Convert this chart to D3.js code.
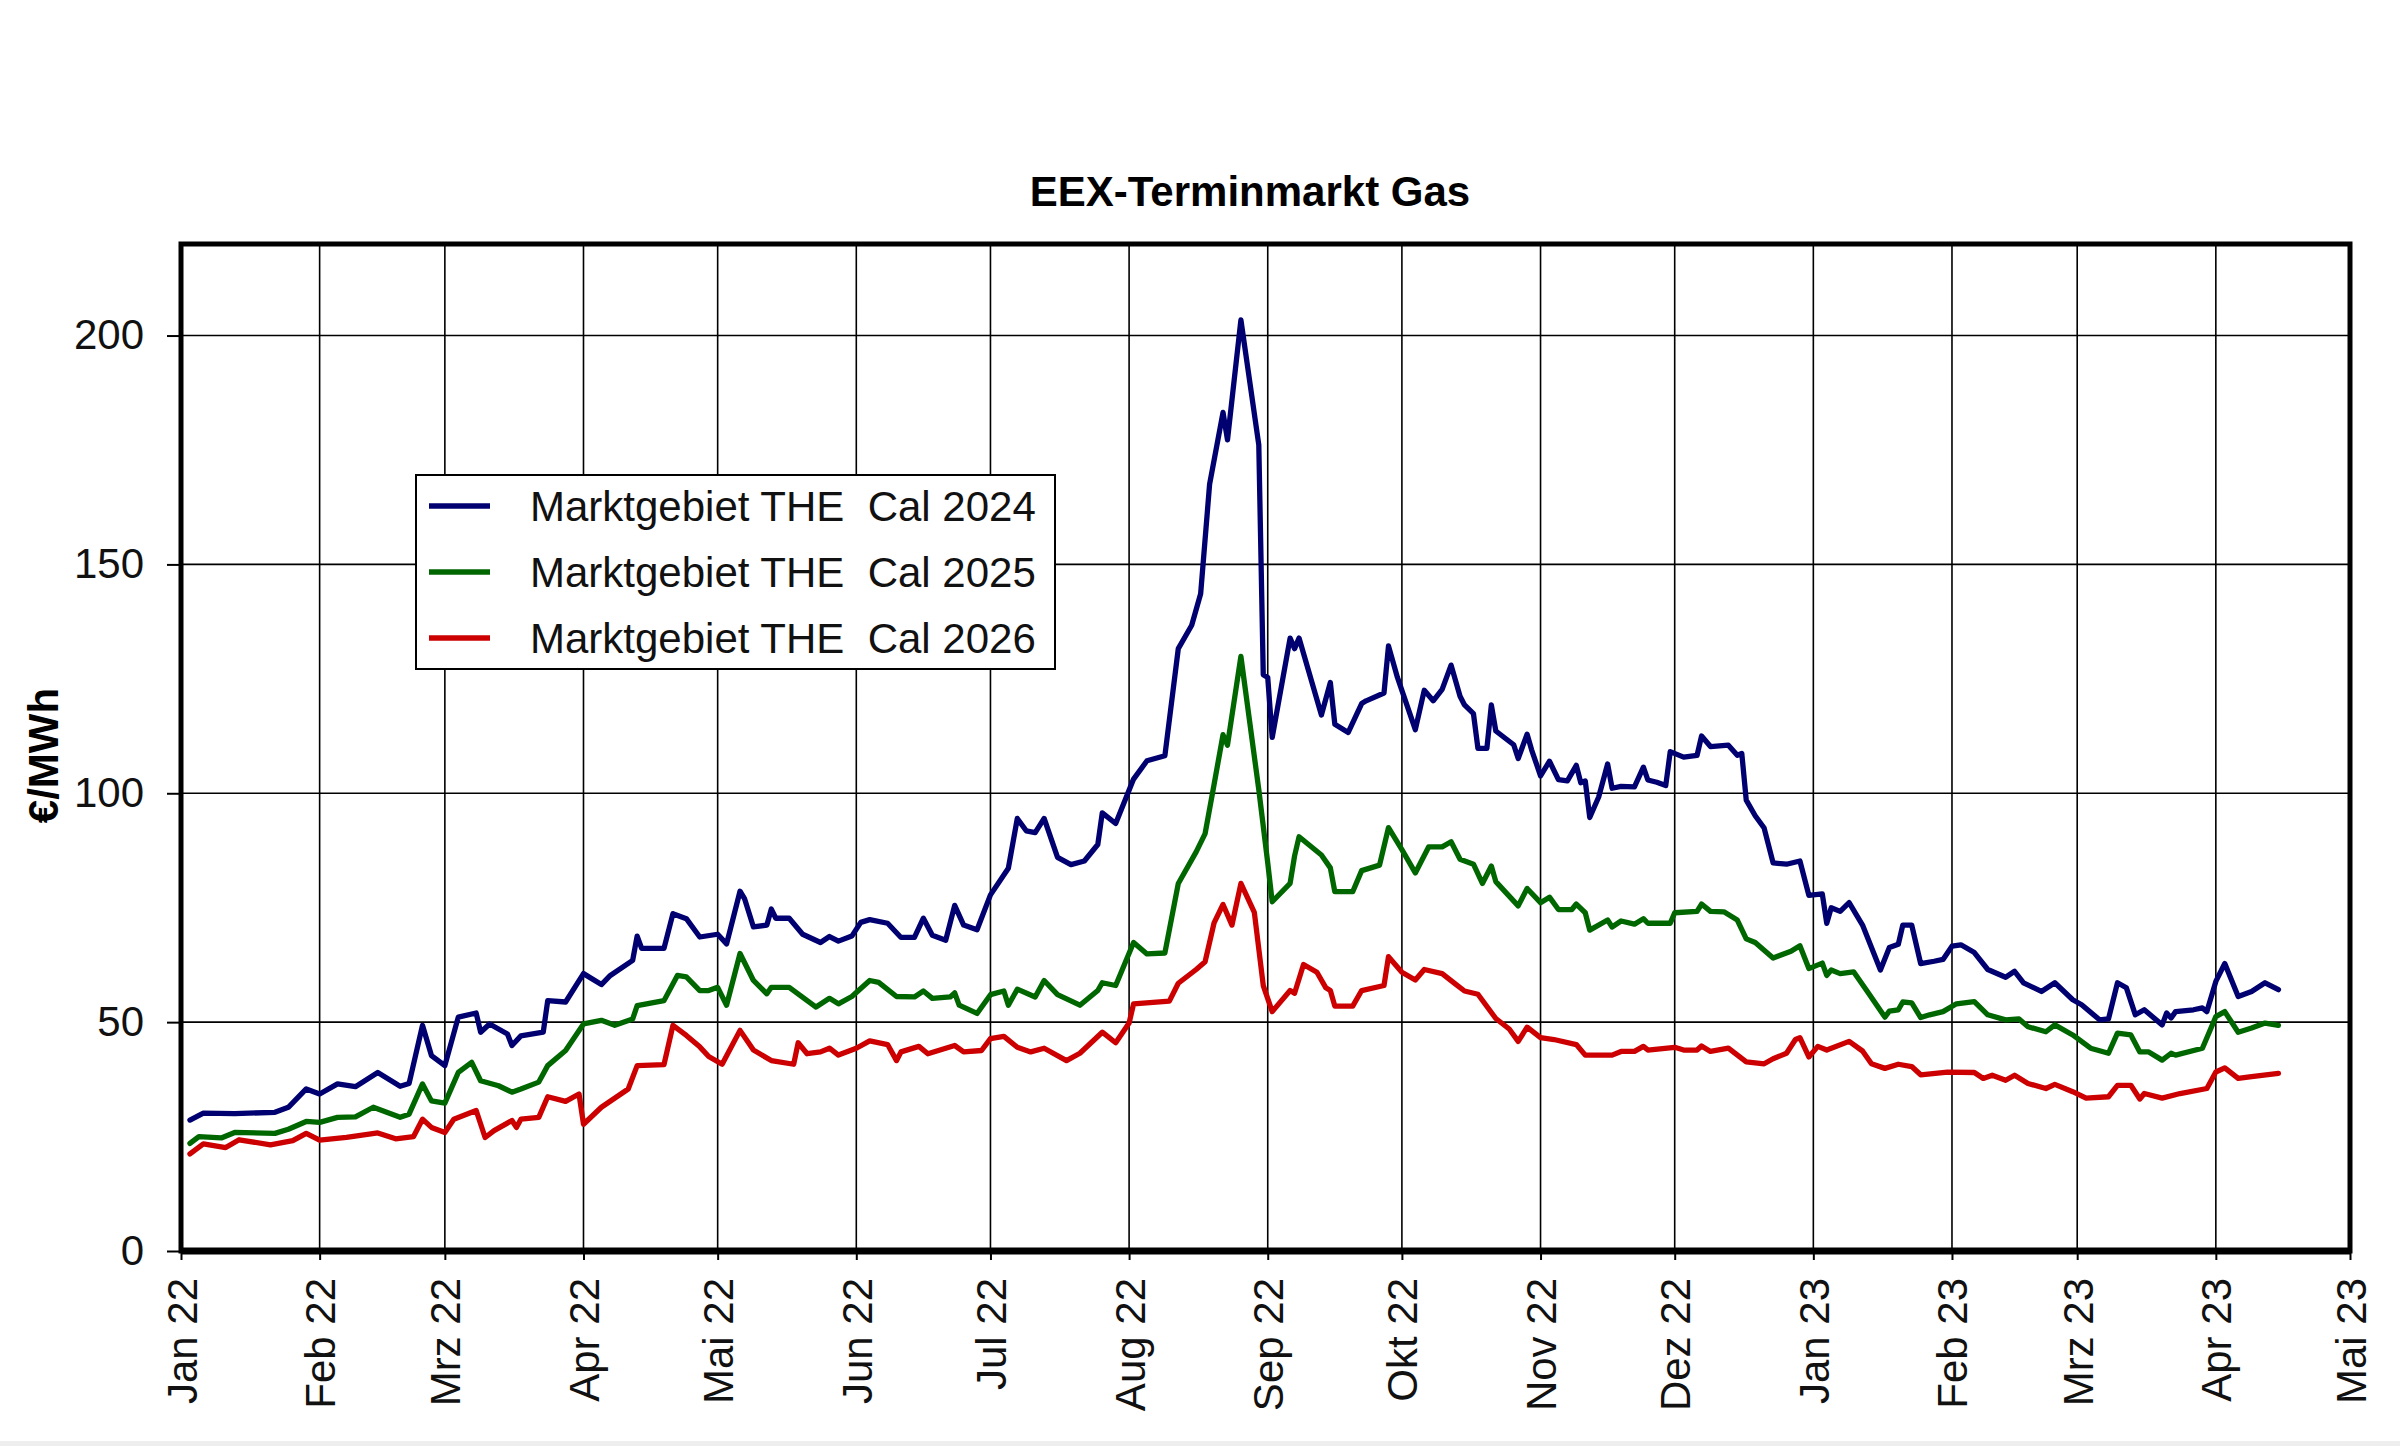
<!DOCTYPE html>
<html>
<head>
<meta charset="utf-8">
<script src="https://cdn.jsdelivr.net/npm/d3@7"></script>
<style>
  body { margin: 0; background: #fff; }
</style>
</head>
<body>
<div id="chart"></div>
<script>
// EEX-Terminmarkt Gas - THE Cal 24/25/26 forward prices

const title = 'EEX-Terminmarkt Gas'
const yLabel = '€/MWh'
const seriesNames = ['Marktgebiet THE  Cal 2024', 'Marktgebiet THE  Cal 2025', 'Marktgebiet THE  Cal 2026']
const seriesColours = ['#000070', '#006600', '#cc0000']
const monthNames = ['Jan', 'Feb', 'Mrz', 'Apr', 'Mai', 'Jun', 'Jul', 'Aug', 'Sep', 'Okt', 'Nov', 'Dez']
const yTicks = [0, 50, 100, 150, 200]
const xStart = '2022-01-01'
const xEnd = '2023-05-01'

const cal2024 = [
  ['2022-01-03', 28.6], ['2022-01-06', 30.1], ['2022-01-13', 30.0], ['2022-01-22', 30.3],
  ['2022-01-25', 31.4], ['2022-01-29', 35.4], ['2022-02-01', 34.3], ['2022-02-05', 36.5],
  ['2022-02-09', 35.9], ['2022-02-14', 39.0], ['2022-02-19', 36.0], ['2022-02-21', 36.6],
  ['2022-02-24', 49.3], ['2022-02-26', 42.7], ['2022-03-01', 40.5], ['2022-03-04', 51.1],
  ['2022-03-08', 52.0], ['2022-03-09', 47.8], ['2022-03-11', 49.6], ['2022-03-15', 47.4],
  ['2022-03-16', 44.9], ['2022-03-18', 47.0], ['2022-03-23', 47.8], ['2022-03-24', 54.7],
  ['2022-03-28', 54.4], ['2022-04-01', 60.6], ['2022-04-05', 58.2], ['2022-04-07', 60.2],
  ['2022-04-12', 63.5], ['2022-04-13', 68.8], ['2022-04-14', 66.1], ['2022-04-19', 66.1],
  ['2022-04-21', 73.7], ['2022-04-24', 72.6], ['2022-04-27', 68.6], ['2022-05-01', 69.2],
  ['2022-05-03', 67.1], ['2022-05-06', 78.6], ['2022-05-07', 77.0], ['2022-05-09', 70.8],
  ['2022-05-12', 71.2], ['2022-05-13', 74.7], ['2022-05-14', 72.7], ['2022-05-17', 72.7],
  ['2022-05-20', 69.2], ['2022-05-24', 67.4], ['2022-05-26', 68.7], ['2022-05-28', 67.7],
  ['2022-05-31', 68.8], ['2022-06-02', 71.8], ['2022-06-04', 72.4], ['2022-06-08', 71.6],
  ['2022-06-11', 68.5], ['2022-06-14', 68.5], ['2022-06-16', 72.7], ['2022-06-18', 69.0],
  ['2022-06-21', 67.9], ['2022-06-23', 75.5], ['2022-06-25', 71.2], ['2022-06-28', 70.2],
  ['2022-07-01', 77.8], ['2022-07-05', 83.6], ['2022-07-07', 94.5], ['2022-07-09', 91.8],
  ['2022-07-11', 91.4], ['2022-07-13', 94.5], ['2022-07-16', 86.0], ['2022-07-19', 84.4],
  ['2022-07-22', 85.2], ['2022-07-25', 88.8], ['2022-07-26', 95.7], ['2022-07-29', 93.4],
  ['2022-08-02', 103.1], ['2022-08-05', 107.1], ['2022-08-09', 108.2], ['2022-08-12', 131.6],
  ['2022-08-15', 136.7], ['2022-08-17', 143.6], ['2022-08-19', 167.5], ['2022-08-22', 183.2],
  ['2022-08-23', 177.2], ['2022-08-26', 203.4], ['2022-08-30', 176.1], ['2022-08-31', 125.9],
  ['2022-09-01', 125.3], ['2022-09-02', 112.2], ['2022-09-06', 133.9], ['2022-09-07', 131.6],
  ['2022-09-08', 133.9], ['2022-09-13', 117.1], ['2022-09-15', 124.2], ['2022-09-16', 115.1],
  ['2022-09-19', 113.3], ['2022-09-22', 119.6], ['2022-09-23', 120.2], ['2022-09-27', 121.9],
  ['2022-09-28', 132.2], ['2022-09-30', 125.3], ['2022-10-04', 113.9], ['2022-10-06', 122.5],
  ['2022-10-08', 120.2], ['2022-10-10', 122.7], ['2022-10-12', 128.0], ['2022-10-14', 121.2],
  ['2022-10-15', 119.3], ['2022-10-17', 117.4], ['2022-10-18', 109.8], ['2022-10-20', 109.8],
  ['2022-10-21', 119.3], ['2022-10-22', 113.6], ['2022-10-26', 110.6], ['2022-10-27', 107.6],
  ['2022-10-29', 112.9], ['2022-10-30', 109.5], ['2022-11-01', 103.8], ['2022-11-03', 107.0],
  ['2022-11-05', 103.0], ['2022-11-07', 102.7], ['2022-11-09', 106.1], ['2022-11-10', 102.3],
  ['2022-11-11', 102.7], ['2022-11-12', 94.7], ['2022-11-14', 99.2], ['2022-11-16', 106.4],
  ['2022-11-17', 101.1], ['2022-11-19', 101.5], ['2022-11-22', 101.4], ['2022-11-24', 105.7],
  ['2022-11-25', 102.9], ['2022-11-27', 102.4], ['2022-11-29', 101.7], ['2022-11-30', 109.1],
  ['2022-12-03', 107.9], ['2022-12-06', 108.3], ['2022-12-07', 112.5], ['2022-12-09', 110.2],
  ['2022-12-13', 110.5], ['2022-12-15', 108.3], ['2022-12-16', 108.7], ['2022-12-17', 98.5],
  ['2022-12-19', 95.1], ['2022-12-21', 92.4], ['2022-12-23', 84.8], ['2022-12-26', 84.5],
  ['2022-12-29', 85.2], ['2022-12-31', 77.7], ['2023-01-03', 78.0], ['2023-01-04', 71.6],
  ['2023-01-05', 75.0], ['2023-01-07', 74.2], ['2023-01-09', 76.1], ['2023-01-12', 71.2],
  ['2023-01-16', 61.4], ['2023-01-18', 66.3], ['2023-01-20', 67.0], ['2023-01-21', 71.2],
  ['2023-01-23', 71.2], ['2023-01-25', 62.8], ['2023-01-28', 63.3], ['2023-01-30', 63.7],
  ['2023-02-01', 66.6], ['2023-02-03', 66.9], ['2023-02-06', 65.2], ['2023-02-09', 61.5],
  ['2023-02-13', 59.8], ['2023-02-15', 61.1], ['2023-02-17', 58.6], ['2023-02-21', 56.7],
  ['2023-02-24', 58.6], ['2023-02-28', 54.9], ['2023-03-02', 53.8], ['2023-03-06', 50.5],
  ['2023-03-08', 50.7], ['2023-03-10', 58.6], ['2023-03-12', 57.5], ['2023-03-14', 51.6],
  ['2023-03-16', 52.7], ['2023-03-20', 49.4], ['2023-03-21', 52.0], ['2023-03-22', 50.9],
  ['2023-03-23', 52.3], ['2023-03-27', 52.7], ['2023-03-29', 53.1], ['2023-03-30', 52.3],
  ['2023-04-01', 58.9], ['2023-04-03', 62.8], ['2023-04-06', 55.6], ['2023-04-09', 56.7],
  ['2023-04-12', 58.6], ['2023-04-15', 57.1]
]

const cal2025 = [
  ['2022-01-03', 23.5], ['2022-01-05', 25.0], ['2022-01-10', 24.7], ['2022-01-13', 25.9],
  ['2022-01-22', 25.7], ['2022-01-25', 26.6], ['2022-01-29', 28.3], ['2022-02-01', 28.1],
  ['2022-02-05', 29.2], ['2022-02-09', 29.3], ['2022-02-13', 31.4], ['2022-02-19', 29.2],
  ['2022-02-21', 29.9], ['2022-02-24', 36.5], ['2022-02-26', 32.8], ['2022-03-01', 32.3],
  ['2022-03-04', 39.0], ['2022-03-07', 41.2], ['2022-03-09', 37.2], ['2022-03-13', 36.1],
  ['2022-03-16', 34.7], ['2022-03-18', 35.4], ['2022-03-22', 36.9], ['2022-03-24', 40.5],
  ['2022-03-28', 43.8], ['2022-04-01', 49.6], ['2022-04-05', 50.4], ['2022-04-08', 49.3],
  ['2022-04-12', 50.7], ['2022-04-13', 53.6], ['2022-04-19', 54.7], ['2022-04-22', 60.2],
  ['2022-04-24', 59.9], ['2022-04-27', 56.9], ['2022-04-29', 56.9], ['2022-05-01', 57.6],
  ['2022-05-03', 53.7], ['2022-05-06', 65.0], ['2022-05-09', 59.1], ['2022-05-12', 56.2],
  ['2022-05-13', 57.6], ['2022-05-17', 57.6], ['2022-05-23', 53.3], ['2022-05-26', 55.2],
  ['2022-05-28', 54.0], ['2022-05-31', 55.6], ['2022-06-04', 59.1], ['2022-06-06', 58.7],
  ['2022-06-10', 55.6], ['2022-06-14', 55.5], ['2022-06-16', 56.8], ['2022-06-18', 55.2],
  ['2022-06-22', 55.5], ['2022-06-23', 56.4], ['2022-06-24', 53.7], ['2022-06-28', 51.9],
  ['2022-07-01', 56.0], ['2022-07-04', 56.8], ['2022-07-05', 53.7], ['2022-07-07', 57.2],
  ['2022-07-11', 55.5], ['2022-07-13', 59.1], ['2022-07-16', 56.0], ['2022-07-21', 53.7],
  ['2022-07-25', 56.9], ['2022-07-26', 58.6], ['2022-07-29', 58.0], ['2022-08-02', 67.4],
  ['2022-08-05', 64.9], ['2022-08-09', 65.1], ['2022-08-12', 80.3], ['2022-08-16', 87.2],
  ['2022-08-18', 91.2], ['2022-08-20', 101.9], ['2022-08-22', 112.8], ['2022-08-23', 110.5],
  ['2022-08-26', 129.9], ['2022-08-30', 100.8], ['2022-09-01', 84.8], ['2022-09-02', 76.3],
  ['2022-09-06', 80.3], ['2022-09-07', 86.3], ['2022-09-08', 90.5], ['2022-09-13', 86.5],
  ['2022-09-15', 83.7], ['2022-09-16', 78.5], ['2022-09-20', 78.5], ['2022-09-22', 83.1],
  ['2022-09-26', 84.3], ['2022-09-28', 92.5], ['2022-10-01', 87.7], ['2022-10-04', 82.6],
  ['2022-10-07', 88.3], ['2022-10-10', 88.3], ['2022-10-12', 89.4], ['2022-10-14', 85.6],
  ['2022-10-17', 84.5], ['2022-10-19', 80.3], ['2022-10-21', 84.1], ['2022-10-22', 80.7],
  ['2022-10-27', 75.4], ['2022-10-29', 79.2], ['2022-11-01', 76.1], ['2022-11-03', 77.3],
  ['2022-11-05', 74.6], ['2022-11-08', 74.6], ['2022-11-09', 75.8], ['2022-11-11', 73.9],
  ['2022-11-12', 70.1], ['2022-11-16', 72.3], ['2022-11-17', 70.8], ['2022-11-19', 72.1],
  ['2022-11-22', 71.4], ['2022-11-24', 72.6], ['2022-11-25', 71.6], ['2022-11-30', 71.6],
  ['2022-12-01', 73.9], ['2022-12-06', 74.2], ['2022-12-07', 75.8], ['2022-12-09', 74.2],
  ['2022-12-12', 74.1], ['2022-12-15', 72.3], ['2022-12-17', 68.2], ['2022-12-19', 67.4],
  ['2022-12-23', 64.0], ['2022-12-27', 65.5], ['2022-12-29', 66.7], ['2022-12-31', 61.7],
  ['2023-01-03', 62.9], ['2023-01-04', 60.2], ['2023-01-05', 61.4], ['2023-01-07', 60.6],
  ['2023-01-10', 61.0], ['2023-01-13', 56.8], ['2023-01-17', 51.1], ['2023-01-18', 52.4],
  ['2023-01-20', 52.7], ['2023-01-21', 54.4], ['2023-01-23', 54.2], ['2023-01-25', 51.0],
  ['2023-01-27', 51.6], ['2023-01-30', 52.3], ['2023-02-02', 54.0], ['2023-02-06', 54.5],
  ['2023-02-09', 51.6], ['2023-02-13', 50.5], ['2023-02-16', 50.7], ['2023-02-18', 49.0],
  ['2023-02-22', 47.9], ['2023-02-24', 49.4], ['2023-02-28', 47.2], ['2023-03-04', 44.3],
  ['2023-03-08', 43.2], ['2023-03-10', 47.6], ['2023-03-13', 47.2], ['2023-03-15', 43.5],
  ['2023-03-17', 43.5], ['2023-03-20', 41.7], ['2023-03-22', 43.2], ['2023-03-23', 42.8],
  ['2023-03-29', 44.3], ['2023-04-01', 51.2], ['2023-04-03', 52.3], ['2023-04-06', 47.8],
  ['2023-04-09', 48.7], ['2023-04-12', 49.8], ['2023-04-15', 49.3]
]

const cal2026 = [
  ['2022-01-03', 21.2], ['2022-01-06', 23.4], ['2022-01-11', 22.6], ['2022-01-14', 24.3],
  ['2022-01-21', 23.2], ['2022-01-26', 24.1], ['2022-01-29', 25.7], ['2022-02-01', 24.2],
  ['2022-02-07', 24.8], ['2022-02-14', 25.8], ['2022-02-18', 24.5], ['2022-02-22', 25.0],
  ['2022-02-24', 28.8], ['2022-02-26', 27.0], ['2022-03-01', 25.9], ['2022-03-03', 28.8],
  ['2022-03-08', 30.7], ['2022-03-10', 24.8], ['2022-03-12', 26.3], ['2022-03-16', 28.5],
  ['2022-03-17', 27.0], ['2022-03-18', 28.8], ['2022-03-22', 29.2], ['2022-03-24', 33.7],
  ['2022-03-28', 32.7], ['2022-03-31', 34.3], ['2022-04-01', 27.7], ['2022-04-05', 31.4],
  ['2022-04-11', 35.4], ['2022-04-13', 40.5], ['2022-04-19', 40.7], ['2022-04-21', 49.3],
  ['2022-04-24', 47.1], ['2022-04-27', 44.6], ['2022-04-29', 42.5], ['2022-05-02', 40.8],
  ['2022-05-06', 48.2], ['2022-05-09', 43.9], ['2022-05-13', 41.6], ['2022-05-18', 40.8],
  ['2022-05-19', 45.5], ['2022-05-21', 43.1], ['2022-05-24', 43.5], ['2022-05-26', 44.3],
  ['2022-05-28', 42.8], ['2022-06-01', 44.3], ['2022-06-04', 45.9], ['2022-06-08', 45.1],
  ['2022-06-10', 41.6], ['2022-06-11', 43.5], ['2022-06-15', 44.7], ['2022-06-17', 43.1],
  ['2022-06-23', 44.9], ['2022-06-25', 43.5], ['2022-06-29', 43.8], ['2022-07-01', 46.4],
  ['2022-07-04', 46.9], ['2022-07-07', 44.5], ['2022-07-10', 43.5], ['2022-07-13', 44.3],
  ['2022-07-18', 41.6], ['2022-07-21', 43.2], ['2022-07-26', 47.8], ['2022-07-29', 45.5],
  ['2022-08-01', 49.8], ['2022-08-02', 54.0], ['2022-08-10', 54.6], ['2022-08-12', 58.5],
  ['2022-08-16', 61.5], ['2022-08-18', 63.2], ['2022-08-20', 71.7], ['2022-08-22', 75.7],
  ['2022-08-24', 71.2], ['2022-08-26', 80.3], ['2022-08-29', 74.0], ['2022-08-31', 58.0],
  ['2022-09-02', 52.3], ['2022-09-06', 56.9], ['2022-09-07', 56.3], ['2022-09-09', 62.6],
  ['2022-09-12', 60.9], ['2022-09-14', 57.5], ['2022-09-15', 56.9], ['2022-09-16', 53.5],
  ['2022-09-20', 53.5], ['2022-09-22', 56.9], ['2022-09-27', 58.0], ['2022-09-28', 64.3],
  ['2022-10-01', 60.9], ['2022-10-04', 59.2], ['2022-10-06', 61.5], ['2022-10-10', 60.6],
  ['2022-10-13', 58.3], ['2022-10-15', 56.8], ['2022-10-18', 56.1], ['2022-10-22', 50.8],
  ['2022-10-25', 48.5], ['2022-10-27', 45.8], ['2022-10-29', 48.9], ['2022-11-01', 46.6],
  ['2022-11-04', 46.2], ['2022-11-09', 45.1], ['2022-11-11', 42.8], ['2022-11-17', 42.8],
  ['2022-11-19', 43.6], ['2022-11-22', 43.6], ['2022-11-24', 44.7], ['2022-11-25', 43.9],
  ['2022-12-01', 44.5], ['2022-12-03', 43.9], ['2022-12-06', 43.9], ['2022-12-07', 44.8],
  ['2022-12-09', 43.6], ['2022-12-13', 44.3], ['2022-12-17', 41.3], ['2022-12-21', 40.9],
  ['2022-12-23', 42.0], ['2022-12-26', 43.2], ['2022-12-28', 46.2], ['2022-12-29', 46.6],
  ['2022-12-31', 42.4], ['2023-01-02', 44.7], ['2023-01-04', 43.9], ['2023-01-09', 45.8],
  ['2023-01-12', 43.7], ['2023-01-14', 40.9], ['2023-01-17', 39.9], ['2023-01-20', 40.8],
  ['2023-01-23', 40.3], ['2023-01-25', 38.5], ['2023-01-31', 39.1], ['2023-02-06', 39.0],
  ['2023-02-08', 37.7], ['2023-02-10', 38.4], ['2023-02-13', 37.3], ['2023-02-15', 38.4],
  ['2023-02-18', 36.6], ['2023-02-22', 35.5], ['2023-02-24', 36.4], ['2023-02-28', 34.8],
  ['2023-03-03', 33.4], ['2023-03-08', 33.7], ['2023-03-10', 36.2], ['2023-03-13', 36.2],
  ['2023-03-15', 33.2], ['2023-03-16', 34.4], ['2023-03-20', 33.4], ['2023-03-24', 34.4],
  ['2023-03-30', 35.5], ['2023-04-01', 39.1], ['2023-04-03', 40.0], ['2023-04-06', 37.7],
  ['2023-04-09', 38.1], ['2023-04-15', 38.8]
]

const parseDate = d3.timeParse('%Y-%m-%d')

makeChart({
  selector: '#chart',
  width: 2400,
  height: 1446,
  margin: {left: 181, right: 50, top: 244, bottom: 195},
  fontSize: 42,
  series: [cal2024, cal2025, cal2026]
})

function makeChart({selector, width, height, margin, fontSize, series}) {

  const plotW = width - margin.left - margin.right
  const plotH = height - margin.top - margin.bottom
  const font = "'Liberation Sans', Arial, sans-serif"

  const svg = d3.select(selector)
    .append('svg')
    .attr('width', width)
    .attr('height', height)
    .style('font-family', font)

  svg.append('rect')
    .attr('width', width)
    .attr('height', height)
    .attr('fill', '#fff')

  // thin grey strip along the bottom of the page
  svg.append('rect')
    .attr('y', height - 5)
    .attr('width', width)
    .attr('height', 5)
    .attr('fill', '#eeeeee')

  // Scales
  const xScale = d3.scaleTime()
    .domain([parseDate(xStart), parseDate(xEnd)])
    .range([0, plotW])
  const yScale = d3.scaleLinear()
    .domain([0, 220])
    .range([plotH, 0])

  const months = d3.timeMonth.range(parseDate(xStart), d3.timeDay.offset(parseDate(xEnd), 1))

  const gChart = svg.append('g')
    .attr('transform', `translate(${margin.left},${margin.top})`)

  // Grid
  gChart.append('g')
    .selectAll('line')
    .data(yTicks.filter(v => v > 0))
    .join('line')
    .attr('x1', 0)
    .attr('x2', plotW)
    .attr('y1', d => yScale(d))
    .attr('y2', d => yScale(d))
    .attr('stroke', '#000')
    .attr('stroke-width', 1.6)

  gChart.append('g')
    .selectAll('line')
    .data(months.slice(1, -1))
    .join('line')
    .attr('x1', d => xScale(d))
    .attr('x2', d => xScale(d))
    .attr('y1', 0)
    .attr('y2', plotH)
    .attr('stroke', '#000')
    .attr('stroke-width', 1.6)

  // Axes
  const lAxis = gChart.append('g')
    .call(d3.axisLeft(yScale)
      .tickValues(yTicks)
      .tickSize(14)
      .tickPadding(23))
  lAxis.select('.domain').remove()
  lAxis.selectAll('line').attr('stroke', '#000').attr('stroke-width', 2)
  lAxis.selectAll('text')
    .style('font-size', fontSize)
    .style('font-family', font)
    .attr('fill', '#111')

  const bAxis = gChart.append('g')
    .attr('transform', `translate(0,${plotH})`)
    .call(d3.axisBottom(xScale)
      .tickValues(months)
      .tickSize(9)
      .tickFormat(d => `${monthNames[d.getMonth()]} ${d3.timeFormat('%y')(d)}`))
  bAxis.select('.domain').remove()
  bAxis.selectAll('line').attr('stroke', '#000').attr('stroke-width', 2)
  bAxis.selectAll('text')
    .style('font-size', fontSize)
    .style('font-family', font)
    .attr('fill', '#111')
    .attr('text-anchor', 'end')
    .attr('transform', 'rotate(-90)')
    .attr('x', -27)
    .attr('y', 15)
    .attr('dy', 0)

  // Lines
  const line = d3.line()
    .x(d => xScale(parseDate(d[0])))
    .y(d => yScale(d[1]))

  gChart.append('g')
    .selectAll('path')
    .data(series)
    .join('path')
    .attr('d', d => line(d))
    .attr('fill', 'none')
    .attr('stroke', (d, i) => seriesColours[i])
    .attr('stroke-width', 5.3)
    .attr('stroke-linejoin', 'round')
    .attr('stroke-linecap', 'round')

  // Frame
  gChart.append('rect')
    .attr('width', plotW)
    .attr('height', plotH)
    .attr('fill', 'none')
    .attr('stroke', '#000')
    .attr('stroke-width', 5)
  gChart.append('line')
    .attr('x1', 0)
    .attr('x2', plotW)
    .attr('y1', plotH)
    .attr('y2', plotH)
    .attr('stroke', '#000')
    .attr('stroke-width', 7)

  // Legend
  const legend = svg.append('g')
    .attr('transform', 'translate(416,475)')
  legend.append('rect')
    .attr('width', 639)
    .attr('height', 194)
    .attr('fill', '#fff')
    .attr('stroke', '#000')
    .attr('stroke-width', 2)
  const rows = legend.selectAll('g')
    .data(seriesNames)
    .join('g')
    .attr('transform', (d, i) => `translate(0,${31 + i * 66})`)
  rows.append('line')
    .attr('x1', 13)
    .attr('x2', 74)
    .attr('stroke', (d, i) => seriesColours[i])
    .attr('stroke-width', 5.3)
  rows.append('text')
    .attr('x', 114)
    .attr('dy', '0.35em')
    .style('font-size', fontSize)
    .style('white-space', 'pre')
    .attr('fill', '#111')
    .text(d => d)

  // Titles
  svg.append('text')
    .attr('x', 1250)
    .attr('y', 206)
    .attr('text-anchor', 'middle')
    .style('font-size', fontSize)
    .style('font-weight', 'bold')
    .text(title)

  svg.append('text')
    .attr('transform', `translate(58,${margin.top + plotH / 2 + 8}) rotate(-90)`)
    .attr('text-anchor', 'middle')
    .style('font-size', fontSize)
    .style('font-weight', 'bold')
    .text(yLabel)
}
</script>
</body>
</html>
